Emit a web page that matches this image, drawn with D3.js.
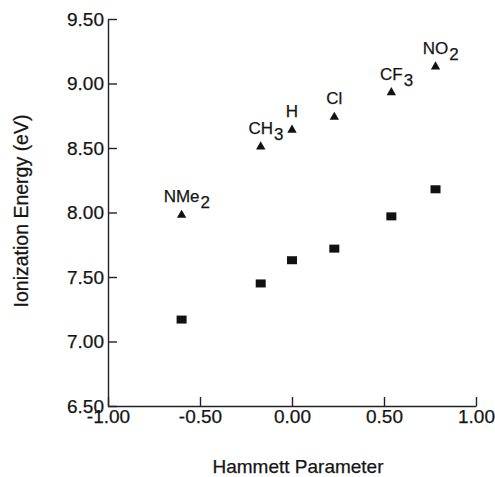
<!DOCTYPE html>
<html>
<head>
<meta charset="utf-8">
<script src="https://cdn.jsdelivr.net/npm/d3@7"></script>
<style>
  body { margin: 0; background: #fff; }
  text { font-family: "Liberation Sans", Arial, sans-serif; fill: #151515; stroke: #151515; stroke-width: 0.25px; }
</style>
</head>
<body>
<svg id="chart" width="495" height="477"></svg>
<script>
// substituents (main text + subscript)
const labels = ["NMe", "CH", "H", "Cl", "CF", "NO"];
const subs = ["2", "3", "", "", "3", "2"];
// Hammett parameter
const sigma = [-0.60, -0.17, 0.00, 0.23, 0.54, 0.78];
// triangles (upper) and squares (lower), eV
const upperIE = [7.98, 8.51, 8.64, 8.74, 8.93, 9.13];
const lowerIE = [7.17, 7.45, 7.63, 7.72, 7.97, 8.18];

const xTicks = [-1.0, -0.5, 0.0, 0.5, 1.0];
const yTicks = [6.5, 7.0, 7.5, 8.0, 8.5, 9.0, 9.5];

const svg = d3.select("#chart");

const x = d3.scaleLinear().domain([-1, 1]).range([108, 476]);
const y = d3.scaleLinear().domain([6.5, 9.5]).range([406, 19]);

// ---------- AXES ----------
const xAxis = d3.axisBottom(x)
  .tickValues(xTicks)
  .tickFormat(d3.format(".2f"))
  .tickSizeInner(-9)
  .tickSizeOuter(0)
  .tickPadding(3);

const yAxis = d3.axisLeft(y)
  .tickValues(yTicks)
  .tickFormat(d3.format(".2f"))
  .tickSizeInner(-9)
  .tickSizeOuter(0)
  .tickPadding(4);

const gx = svg.append("g")
  .attr("transform", `translate(0,${y(6.5)})`)
  .call(xAxis);

const gy = svg.append("g")
  .attr("transform", `translate(${x(-1)},0)`)
  .call(yAxis);

[gx, gy].forEach(g => {
  g.selectAll("path, line").attr("stroke", "#222").attr("stroke-width", 1.4);
  g.selectAll("text")
    .style("font-size", "19px")
    .attr("fill", "#151515");
});
gx.selectAll("text").text(d => d3.format(".2f")(d).replace("−", "-"));

// axis titles
svg.append("text")
  .attr("x", 298)
  .attr("y", 473)
  .attr("text-anchor", "middle")
  .style("font-size", "19px")
  .text("Hammett Parameter");

svg.append("text")
  .attr("transform", "translate(28,211) rotate(-90)")
  .attr("text-anchor", "middle")
  .style("font-size", "19.5px")
  .text("Ionization Energy (eV)");

// ---------- MARKERS ----------
const tri = d3.symbol(d3.symbolTriangle, 38);

svg.append("g")
  .selectAll("path")
  .data(sigma)
  .enter()
  .append("path")
  .attr("d", tri)
  .attr("transform", (d, i) => `translate(${x(d)},${y(upperIE[i])})`)
  .attr("fill", "#111");

svg.append("g")
  .selectAll("rect")
  .data(sigma)
  .enter()
  .append("rect")
  .attr("x", d => x(d) - 5)
  .attr("y", (d, i) => y(lowerIE[i]) - 4)
  .attr("width", 10)
  .attr("height", 8)
  .attr("fill", "#111");

// ---------- LABELS ----------
const lab = svg.append("g");
sigma.forEach((d, i) => {
  const t = lab.append("text")
    .attr("x", x(d))
    .attr("y", y(upperIE[i]) - 13)
    .attr("text-anchor", "middle")
    .style("font-size", "17px")
    .text(labels[i]);
  if (subs[i]) {
    const w = t.node().getComputedTextLength();
    lab.append("text")
      .attr("x", x(d) + w / 2 + 1)
      .attr("y", y(upperIE[i]) - 7)
      .style("font-size", "17px")
      .text(subs[i]);
  }
});
</script>
</body>
</html>
